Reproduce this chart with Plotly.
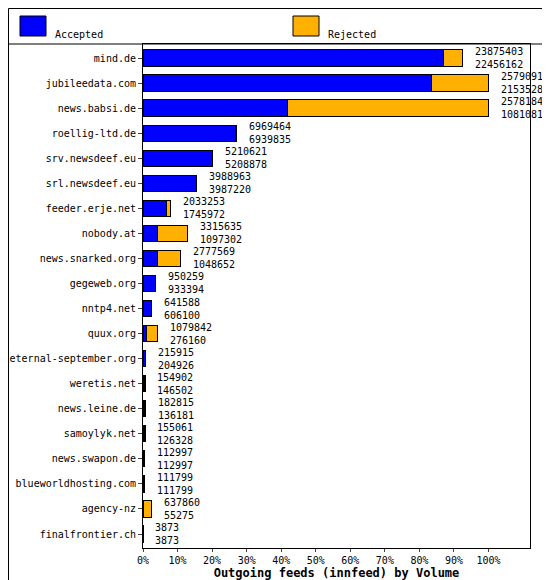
import plotly.graph_objects as go

hosts = ["mind.de","jubileedata.com","news.babsi.de","roellig-ltd.de","srv.newsdeef.eu",
         "srl.newsdeef.eu","feeder.erje.net","nobody.at","news.snarked.org","gegeweb.org",
         "nntp4.net","quux.org","eternal-september.org","weretis.net","news.leine.de",
         "samoylyk.net","news.swapon.de","blueworldhosting.com","agency-nz","finalfrontier.ch"]
offered = [23875403,25790918,25781841,6969464,5210621,3988963,2033253,3315635,2777569,950259,
           641588,1079842,215915,154902,182815,155061,112997,111799,637860,3873]
accepted = [22456162,21535289,10810811,6939835,5208878,3987220,1745972,1097302,1048652,933394,
            606100,276160,204926,146502,136181,126328,112997,111799,55275,3873]
series_names = ["Accepted", "Rejected"]
series_colors = ["#0000ff", "#ffb000"]

mx = max(offered)
acc_pct = [a / mx * 100 for a in accepted]
rej_pct = [(o - a) / mx * 100 for o, a in zip(offered, accepted)]
tot_pct = [o / mx * 100 for o in offered]

fig = go.Figure()
fig.add_bar(y=hosts, x=acc_pct, orientation="h", name=series_names[0],
            marker=dict(color=series_colors[0], line=dict(color="black", width=1)), width=0.65)
fig.add_bar(y=hosts, x=rej_pct, orientation="h", name=series_names[1],
            marker=dict(color=series_colors[1], line=dict(color="black", width=1)), width=0.65)

for h, t, o, a in zip(hosts, tot_pct, offered, accepted):
    fig.add_annotation(x=t + 3, y=h, text=f"{o}<br>{a}", showarrow=False, xanchor="left",
                       align="left", font=dict(size=10, color="black"))

L, R, T, B = 135, 28, 36, 40
W, H = 550 - L - R, 580 - T - B
px = lambda p: (p - L) / W
py = lambda p: 1 - (p - T) / H
shapes = [
    dict(type="rect", xref="paper", yref="paper", x0=px(0.5), x1=px(549.5), y0=py(579.5), y1=py(0.5),
         line=dict(color="black", width=1)),
    dict(type="line", xref="paper", yref="paper", x0=px(0.5), x1=px(549.5), y0=1, y1=1,
         line=dict(color="black", width=1)),
]
for i, (nm, c, x0) in enumerate(zip(series_names, series_colors, [12, 285])):
    shapes.append(dict(type="rect", xref="paper", yref="paper", x0=px(x0), x1=px(x0 + 26),
                       y0=py(28), y1=py(8), fillcolor=c, line=dict(color="black", width=1)))
    fig.add_annotation(xref="paper", yref="paper", x=px(x0 + 33), y=py(19), text=nm,
                       showarrow=False, xanchor="left", font=dict(size=10))
fig.update_layout(
    width=550, height=580, margin=dict(l=L, r=R, t=T, b=B, autoexpand=False),
    barmode="stack", bargap=0.35, plot_bgcolor="white", paper_bgcolor="white",
    font=dict(family="DejaVu Sans Mono", size=10, color="black"),
    shapes=shapes, showlegend=False,
)
fig.update_xaxes(range=[0, 112], tickvals=list(range(0, 101, 10)),
                 ticktext=[f"{v}%" for v in range(0, 101, 10)], showgrid=False, automargin=False,
                 showline=True, linecolor="black", mirror=True, ticks="outside", ticklen=3,
                 title=dict(text="<b>Outgoing feeds (innfeed) by Volume</b>", standoff=2))
fig.update_yaxes(autorange="reversed", showgrid=False, showline=True, linecolor="black",
                 automargin=False, mirror=True, ticks="outside", ticklen=4)
fig.write_html("out.html")
